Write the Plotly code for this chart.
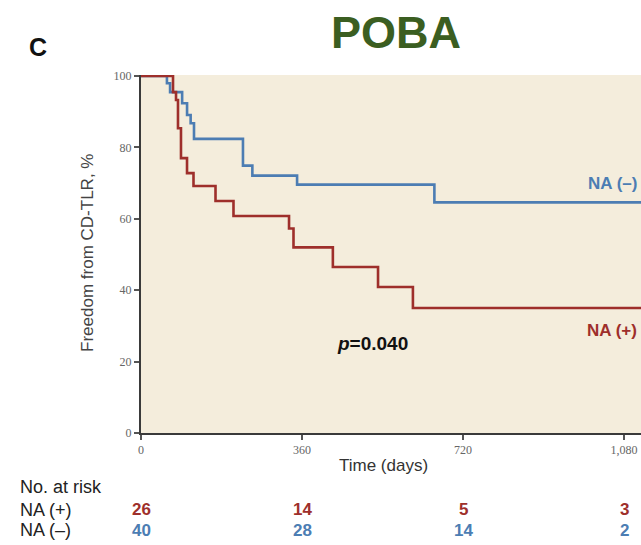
import plotly.graph_objects as go

# ---- data ----
na_pos_days = [0, 71.6, 78.3, 82.7, 89.4, 102.9, 117.4, 166.6, 206.8, 331, 341, 429, 530, 608, 1118]
na_pos_surv = [100, 95.5, 93.3, 85.4, 77.0, 72.8, 69.2, 65.0, 60.8, 57.3, 52.0, 46.5, 40.9, 35.0, 35.0]

na_neg_days = [0, 58, 65, 92, 103, 111, 118.5, 228, 249, 349, 656, 1118]
na_neg_surv = [100, 98.0, 95.5, 92.4, 89.1, 86.8, 82.4, 74.9, 72.1, 69.6, 64.6, 64.6]

risk_times = [0, 360, 720, 1080]
risk_pos = [26, 14, 5, 3]
risk_neg = [40, 28, 14, 2]
x_ticks = [0, 360, 720, 1080]
x_ticklabels = ["0", "360", "720", "1,080"]
y_ticks = [0, 20, 40, 60, 80, 100]

RED = "#9E2F2B"
BLUE = "#4C7DB3"
SANS = "Liberation Sans, Arial, sans-serif"
SERIF = "Liberation Serif, serif"

fig = go.Figure()
fig.add_trace(go.Scatter(x=na_neg_days, y=na_neg_surv, mode="lines",
                         line=dict(color=BLUE, width=2.6, shape="hv"), hoverinfo="skip"))
fig.add_trace(go.Scatter(x=na_pos_days, y=na_pos_surv, mode="lines",
                         line=dict(color=RED, width=2.6, shape="hv"), hoverinfo="skip"))


def note(text, x, y, size, color, xref="paper", xanchor="center", family=SANS, angle=0):
    return dict(text=text, x=x, y=y, xref=xref, yref="paper", xanchor=xanchor,
                yanchor="middle", textangle=angle, showarrow=False,
                font=dict(family=family, size=size, color=color))


ann = [
    note("<b>C</b>", -0.206, 1.078, 25, "#111"),
    note("<b>POBA</b>", 0.51, 1.12, 45, "#3B5E21"),
    note("<b>NA (–)</b>", 0.942, 0.698, 17, BLUE),
    note("<b>NA (+)</b>", 0.942, 0.285, 17, RED),
    note("<b><i>p</i>=0.040</b>", 0.462, 0.251, 19, "#111"),
    note("Freedom from CD-TLR, %", -0.106, 0.503, 17, "#444", angle=-90),
    note("Time (days)", 0.484, -0.092, 17, "#333"),
    note("No. at risk", -0.246, -0.150, 18, "#222", xanchor="left"),
    note("NA (+)", -0.246, -0.215, 18, "#222", xanchor="left"),
    note("NA (–)", -0.246, -0.272, 18, "#222", xanchor="left"),
]
for t, a, b in zip(risk_times, risk_pos, risk_neg):
    ann.append(note("<b>%d</b>" % a, t, -0.215, 17, RED, xref="x"))
    ann.append(note("<b>%d</b>" % b, t, -0.272, 17, BLUE, xref="x"))

fig.update_layout(
    width=641, height=545,
    margin=dict(l=141, r=0, t=75, b=112),
    paper_bgcolor="white", plot_bgcolor="#F4EDDC",
    showlegend=False,
    annotations=ann,
    xaxis=dict(range=[0, 1118], tickvals=x_ticks, ticktext=x_ticklabels,
               showgrid=False, zeroline=False, showline=True, linecolor="#3a3a3a", linewidth=2,
               ticks="outside", ticklen=5, tickwidth=1.5, tickcolor="#555",
               tickfont=dict(family=SERIF, size=12, color="#666")),
    yaxis=dict(range=[0, 100.3], tickvals=y_ticks,
               showgrid=False, zeroline=False, showline=True, linecolor="#3a3a3a", linewidth=2,
               ticks="outside", ticklen=5, tickwidth=1.5, tickcolor="#555",
               tickfont=dict(family=SERIF, size=12, color="#666")),
)

fig.write_html("out.html")
